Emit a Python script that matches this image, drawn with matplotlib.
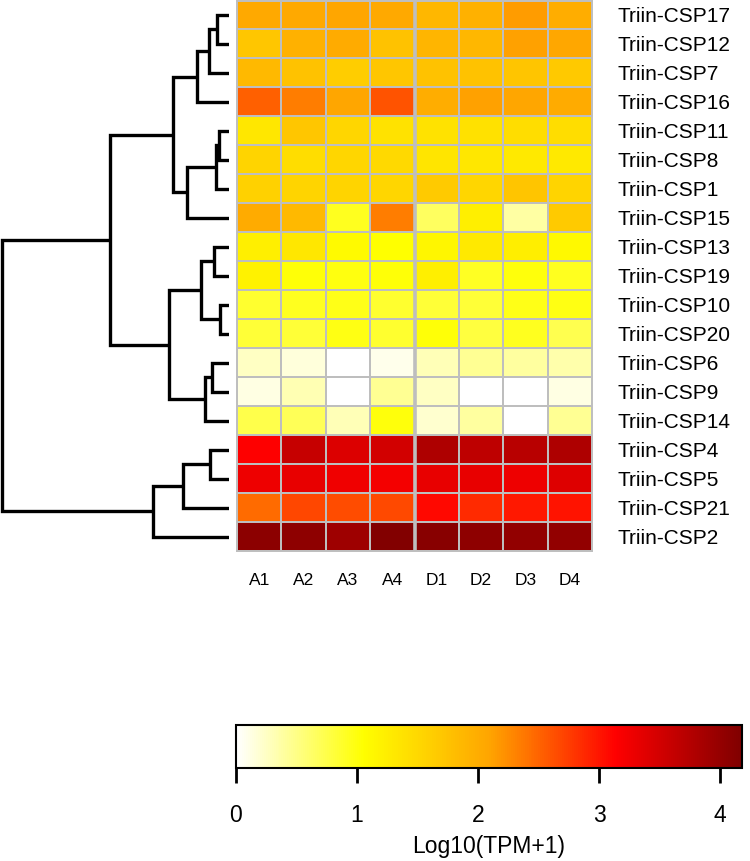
import numpy as np
import matplotlib
matplotlib.use('Agg')
from matplotlib import pyplot as plt
from matplotlib.colors import LinearSegmentedColormap

plt.rcParams['font.family'] = ['Liberation Sans', 'DejaVu Sans']

genes = ['Triin-CSP17', 'Triin-CSP12', 'Triin-CSP7', 'Triin-CSP16', 'Triin-CSP11',
         'Triin-CSP8', 'Triin-CSP1', 'Triin-CSP15', 'Triin-CSP13', 'Triin-CSP19',
         'Triin-CSP10', 'Triin-CSP20', 'Triin-CSP6', 'Triin-CSP9', 'Triin-CSP14',
         'Triin-CSP4', 'Triin-CSP5', 'Triin-CSP21', 'Triin-CSP2']
samples = ['A1', 'A2', 'A3', 'A4', 'D1', 'D2', 'D3', 'D4']

# log10(TPM+1), rows in dendrogram order
values = [
    [2.05, 2.05, 2.08, 2.05, 1.88, 1.95, 2.15, 2.00],
    [1.70, 1.95, 2.02, 1.75, 1.90, 1.88, 2.12, 2.07],
    [1.85, 1.75, 1.62, 1.70, 1.75, 1.75, 1.72, 1.68],
    [2.53, 2.35, 2.08, 2.60, 2.00, 2.12, 2.08, 2.02],
    [1.33, 1.70, 1.52, 1.38, 1.38, 1.40, 1.45, 1.45],
    [1.55, 1.45, 1.52, 1.50, 1.35, 1.33, 1.30, 1.30],
    [1.58, 1.55, 1.55, 1.52, 1.65, 1.52, 1.72, 1.55],
    [2.02, 1.86, 0.93, 2.35, 0.66, 1.24, 0.39, 1.66],
    [1.24, 1.33, 1.10, 1.06, 1.15, 1.30, 1.25, 1.12],
    [1.20, 1.02, 0.98, 1.02, 1.24, 0.90, 1.00, 0.92],
    [0.85, 0.93, 0.96, 0.85, 0.83, 0.82, 0.95, 0.97],
    [0.82, 0.82, 0.97, 0.85, 1.02, 0.80, 0.92, 0.72],
    [0.26, 0.16, 0.00, 0.09, 0.30, 0.45, 0.40, 0.35],
    [0.12, 0.32, 0.00, 0.45, 0.26, 0.00, 0.00, 0.12],
    [0.75, 0.70, 0.30, 1.00, 0.20, 0.40, 0.00, 0.45],
    [3.15, 3.60, 3.42, 3.50, 3.80, 3.66, 3.72, 3.80],
    [3.28, 3.33, 3.25, 3.22, 3.33, 3.33, 3.28, 3.40],
    [2.46, 2.69, 2.65, 2.67, 3.08, 2.86, 2.98, 3.02],
    [4.08, 4.05, 3.92, 4.15, 4.10, 4.05, 4.02, 4.02],
]

# dendrogram merges: (child a, child b, height); leaves 0..18, new nodes from 19
merges = [
    (0, 1, 12), (19, 2, 20), (20, 3, 32),
    (4, 5, 10.5), (22, 6, 13), (23, 7, 42),
    (21, 24, 56),
    (8, 9, 15), (10, 11, 9), (26, 27, 28),
    (12, 13, 17), (29, 14, 24), (28, 30, 60),
    (25, 31, 119),
    (15, 16, 19), (33, 17, 46), (34, 18, 76),
    (32, 35, 227),
]

vmax = 4.18
cmap = LinearSegmentedColormap.from_list('heat', ['white', 'yellow', 'orange', 'red', '#800000'])

W, H = 750, 861
fig = plt.figure(figsize=(W / 100, H / 100), dpi=100)

def px_axes(x0, y0, x1, y1):
    return fig.add_axes([x0 / W, 1 - y1 / H, (x1 - x0) / W, (y1 - y0) / H])

n = len(genes)
data = np.array(values)

# heatmap
ax = px_axes(237, 0.5, 592, 551)
mesh = ax.pcolormesh(np.arange(len(samples) + 1), np.arange(n + 1), data, cmap=cmap,
                     vmin=0, vmax=vmax, edgecolors='#BEBEBE', linewidth=1.4)
ax.axvline(4, color='#BEBEBE', lw=2.6)
ax.set_xlim(0, len(samples))
ax.set_ylim(n, 0)
for s in ax.spines.values():
    s.set_color('#BEBEBE')
    s.set_linewidth(1.4)
ax.set_xticks(np.arange(len(samples)) + 0.5)
ax.set_xticklabels(samples, fontsize=12.5)
ax.set_yticks(np.arange(n) + 0.5)
ax.set_yticklabels(genes, fontsize=15)
ax.yaxis.tick_right()
ax.tick_params(length=0)
ax.tick_params(axis='x', pad=16)
ax.tick_params(axis='y', pad=18)

# dendrogram
dax = px_axes(0, 0.5, 229, 551)
ypos = {i: i + 0.5 for i in range(n)}
hpos = {i: 0 for i in range(n)}
for k, (a, b, h) in enumerate(merges):
    node = n + k
    ya, yb = ypos[a], ypos[b]
    dax.plot([hpos[a], h, h, hpos[b]], [ya, ya, yb, yb], color='black', lw=2.4,
             solid_capstyle='butt', solid_joinstyle='miter')
    ypos[node] = (ya + yb) / 2
    hpos[node] = h
dax.set_xlim(229, 0)
dax.set_ylim(n, 0)
dax.axis('off')

# colour key
cax = px_axes(236, 725, 742, 768)
cb = fig.colorbar(mesh, cax=cax, orientation='horizontal')
cb.set_ticks([0, 1, 2, 3, 4])
cb.outline.set_linewidth(1.5)
cax.tick_params(length=11, width=2, labelsize=16.5, pad=15)
cb.set_label('Log10(TPM+1)', fontsize=16.5, labelpad=6)

fig.savefig('out.png', dpi=100)
